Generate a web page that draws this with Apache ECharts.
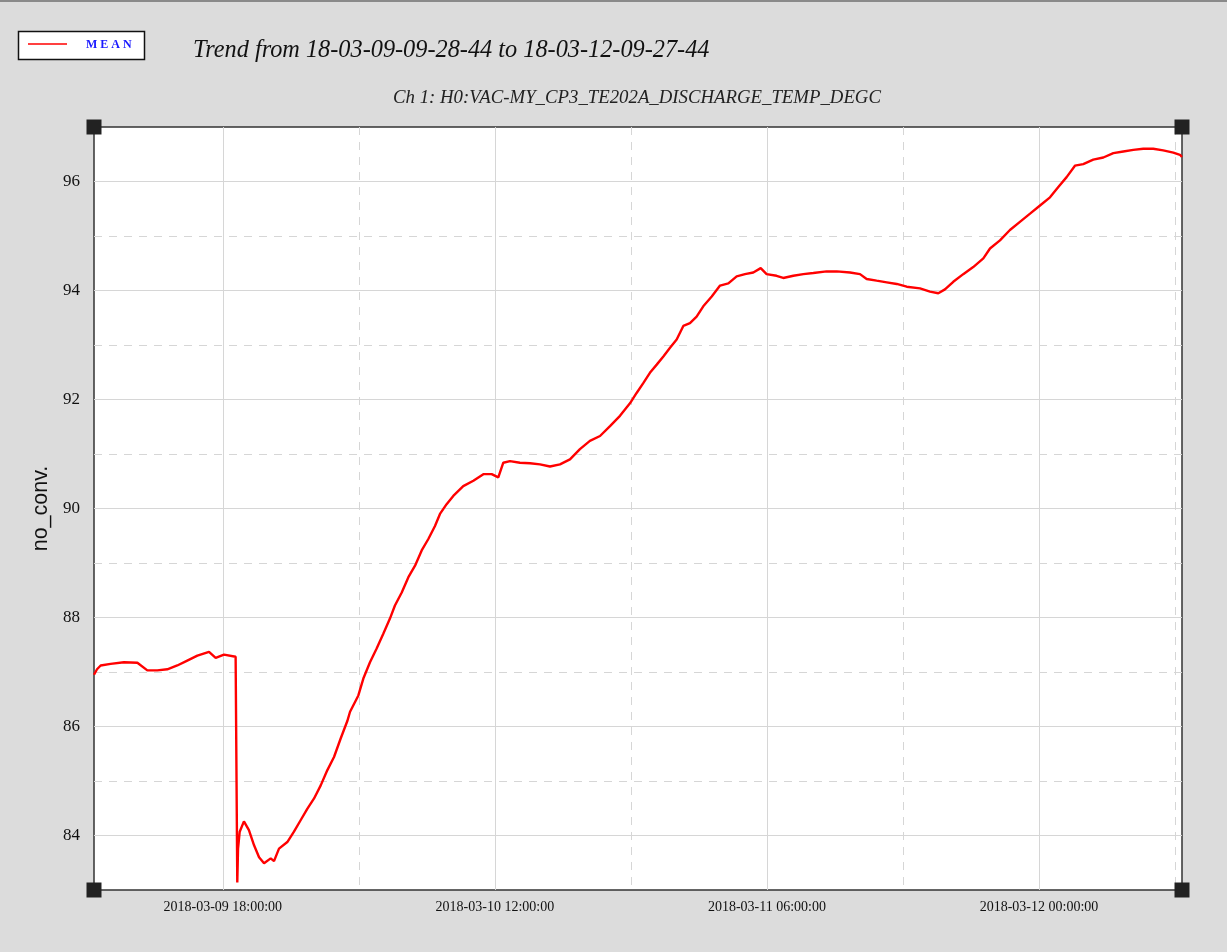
<!DOCTYPE html>
<html><head><meta charset="utf-8">
<script src="https://cdn.jsdelivr.net/npm/echarts@6/dist/echarts.min.js"></script>
<style>html,body{margin:0;padding:0;background:#dcdcdc;}#c{width:1227px;height:952px;}</style>
</head><body><div id="c"></div>
<script>
// ---- data ----
const startTime = '2018-03-09 09:28:44';
const endTime = '2018-03-12 09:27:44';
const seriesName = 'MEAN';
const titleText = 'Trend from 18-03-09-09-28-44 to 18-03-12-09-27-44';
const channelText = 'Ch 1: H0:VAC-MY_CP3_TE202A_DISCHARGE_TEMP_DEGC';
const yAxisName = 'no_conv.';
const hoursFromStart = [
  0.00, 0.20, 0.44, 1.10, 1.98, 2.87, 3.53, 4.19, 4.85, 5.51, 6.17, 6.84, 7.61, 8.05, 8.60, 9.37, 9.44,
  9.48, 9.53, 9.64, 9.92, 10.25, 10.59, 10.92, 11.25, 11.69, 11.91, 12.24, 12.79, 13.23, 13.67, 14.11,
  14.56, 15.00, 15.44, 15.88, 16.32, 16.76, 16.94, 17.49, 17.82, 18.26, 18.70, 19.14, 19.58, 19.91,
  20.36, 20.80, 21.24, 21.68, 22.12, 22.56, 22.89, 23.33, 23.77, 24.43, 25.10, 25.76, 26.31, 26.75,
  27.08, 27.52, 28.18, 28.85, 29.51, 30.17, 30.83, 31.49, 32.15, 32.81, 33.48, 34.14, 34.80, 35.46,
  35.90, 36.34, 36.78, 37.23, 37.67, 38.11, 38.55, 38.99, 39.43, 39.87, 40.31, 40.87, 41.42, 41.97,
  42.52, 43.07, 43.62, 44.11, 44.50, 45.16, 45.60, 46.27, 46.93, 47.59, 48.47, 49.14, 50.02, 50.68,
  51.12, 51.78, 52.45, 53.11, 53.77, 54.65, 55.31, 55.86, 56.30, 56.85, 57.51, 58.17, 58.84, 59.28,
  59.94, 60.60, 61.26, 61.93, 62.59, 63.25, 63.80, 64.35, 64.90, 65.45, 66.11, 66.78, 67.44, 68.10,
  68.76, 69.42, 70.08, 70.74, 71.41, 71.85, 71.98
];
const meanValues = [
  86.95, 87.05, 87.12, 87.15, 87.18, 87.17, 87.03, 87.03, 87.05, 87.12, 87.21, 87.30, 87.37, 87.26, 87.32, 87.28, 87.25,
  83.14, 83.76, 84.07, 84.26, 84.10, 83.82, 83.60, 83.49, 83.58, 83.53, 83.76, 83.88, 84.07, 84.28, 84.49,
  84.68, 84.92, 85.20, 85.44, 85.78, 86.10, 86.27, 86.57, 86.88, 87.18, 87.43, 87.70, 87.98, 88.22,
  88.46, 88.74, 88.95, 89.23, 89.44, 89.68, 89.90, 90.08, 90.23, 90.41, 90.51, 90.63, 90.63, 90.57,
  90.84, 90.87, 90.84, 90.83, 90.81, 90.77, 90.81, 90.90, 91.09, 91.24, 91.33, 91.51, 91.70, 91.93,
  92.12, 92.30, 92.49, 92.64, 92.79, 92.95, 93.10, 93.35, 93.40, 93.52, 93.71, 93.89, 94.09, 94.13,
  94.26, 94.30, 94.33, 94.41, 94.30, 94.27, 94.23, 94.27, 94.30, 94.32, 94.35, 94.35, 94.33, 94.30,
  94.21, 94.18, 94.15, 94.12, 94.07, 94.04, 93.98, 93.95, 94.02, 94.16, 94.30, 94.43, 94.59, 94.77,
  94.92, 95.11, 95.26, 95.41, 95.56, 95.71, 95.90, 96.08, 96.29, 96.32, 96.40, 96.44, 96.52, 96.55,
  96.58, 96.60, 96.60, 96.57, 96.53, 96.49, 96.45
];
const xSolidTicks = ['2018-03-09 18:00:00', '2018-03-10 12:00:00', '2018-03-11 06:00:00', '2018-03-12 00:00:00'];
const xDashedTicks = ['2018-03-10 03:00:00', '2018-03-10 21:00:00', '2018-03-11 15:00:00', '2018-03-12 09:00:00'];
const ySolidTicks = [84, 86, 88, 90, 92, 94, 96];
const yDashedTicks = [85, 87, 89, 91, 93, 95];
const yRange = [83, 97];

// ---- helpers ----
function parseUTC(s) {
  const m = s.match(/(\d+)-(\d+)-(\d+) (\d+):(\d+):(\d+)/);
  return Date.UTC(+m[1], +m[2] - 1, +m[3], +m[4], +m[5], +m[6]);
}
function pad(n) { return String(n).padStart(2, '0'); }
function fmt(ms) {
  const d = new Date(ms);
  return d.getUTCFullYear() + '-' + pad(d.getUTCMonth() + 1) + '-' + pad(d.getUTCDate()) + ' ' +
    pad(d.getUTCHours()) + ':' + pad(d.getUTCMinutes()) + ':' + pad(d.getUTCSeconds());
}
const t0 = parseUTC(startTime), t1 = parseUTC(endTime);
const seriesData = hoursFromStart.map((h, i) => [t0 + Math.round(h * 3600000), meanValues[i]]);
const xSolid = xSolidTicks.map(parseUTC);
const xDashed = xDashedTicks.map(parseUTC);

const SERIF = "'Liberation Serif', 'DejaVu Serif', serif";
const gridCol = '#d6d6d6';
const GL = 94, GT = 127, GR = 1182, GB = 890;

const chart = echarts.init(document.getElementById('c'), null, { renderer: 'canvas' });
function corner(x, y) {
  return { type: 'rect', shape: { x: x - 7.5, y: y - 7.5, width: 15, height: 15 }, style: { fill: '#222' }, z: 100 };
}
const option = {
  backgroundColor: '#dcdcdc',
  animation: false,
  title: [
    { text: titleText, left: 193, top: 39, padding: 0,
      textStyle: { fontFamily: SERIF, fontStyle: 'italic', fontWeight: 'normal', fontSize: 24.3, color: '#111' } },
    { text: channelText, left: 637, textAlign: 'center', top: 89, padding: 0,
      textStyle: { fontFamily: SERIF, fontStyle: 'italic', fontWeight: 'normal', fontSize: 18.8, color: '#222' } }
  ],
  grid: { left: GL, right: 1227 - GR, top: GT, bottom: 952 - GB, show: true, backgroundColor: '#ffffff',
    borderColor: '#333', borderWidth: 1.5, containLabel: false },
  xAxis: [
    { type: 'value', min: t0, max: t1, position: 'bottom',
      axisLine: { show: false }, axisTick: { show: false, customValues: xSolid },
      axisLabel: { customValues: xSolid, formatter: fmt, margin: 10, fontFamily: SERIF, fontSize: 14, color: '#111' },
      splitLine: { show: true, lineStyle: { color: gridCol, width: 1 } } },
    { type: 'value', min: t0, max: t1, position: 'top',
      axisLine: { show: false }, axisTick: { show: false, customValues: xDashed },
      axisLabel: { show: false, customValues: xDashed },
      splitLine: { show: true, lineStyle: { color: gridCol, width: 1, type: [8, 7] } } }
  ],
  yAxis: [
    { type: 'value', min: yRange[0], max: yRange[1], position: 'left',
      name: yAxisName, nameLocation: 'middle', nameGap: 40, nameRotate: 90,
      nameTextStyle: { fontFamily: "'Liberation Sans', Arial, sans-serif", fontSize: 21.5, color: '#111' },
      axisLine: { show: false }, axisTick: { show: false, customValues: ySolidTicks },
      axisLabel: { customValues: ySolidTicks, margin: 14, fontFamily: SERIF, fontSize: 17, color: '#111' },
      splitLine: { show: true, lineStyle: { color: gridCol, width: 1 } } },
    { type: 'value', min: yRange[0], max: yRange[1], position: 'right',
      axisLine: { show: false }, axisTick: { show: false, customValues: yDashedTicks },
      axisLabel: { show: false, customValues: yDashedTicks },
      splitLine: { show: true, lineStyle: { color: gridCol, width: 1, type: [8, 7] } } }
  ],
  series: [{
    name: seriesName, type: 'line', xAxisIndex: 0, yAxisIndex: 0, data: seriesData,
    symbol: 'none', showSymbol: false, lineStyle: { color: '#ff0000', width: 2.4 }, itemStyle: { color: '#ff0000' }, z: 3
  }],
  graphic: [
    { type: 'rect', shape: { x: 0, y: 0, width: 1227, height: 2 }, style: { fill: '#8a8a8a' }, z: 100 },
    { type: 'group', z: 100, children: [
      { type: 'rect', shape: { x: 18.5, y: 31.5, width: 126, height: 28 }, style: { fill: '#fff', stroke: '#111', lineWidth: 1.5 } },
      { type: 'line', shape: { x1: 28, y1: 44, x2: 67, y2: 44 }, style: { stroke: '#ff0000', lineWidth: 1.5 } },
      { type: 'text', x: 86, y: 45, style: { text: seriesName.split('').join(' '), fill: '#1a1aff', font: "bold 12px 'Liberation Serif', serif", verticalAlign: 'middle' } }
    ] },
    corner(GL, GT), corner(GR, GT), corner(GL, GB), corner(GR, GB)
  ]
};
chart.setOption(option);
</script>
</body></html>
